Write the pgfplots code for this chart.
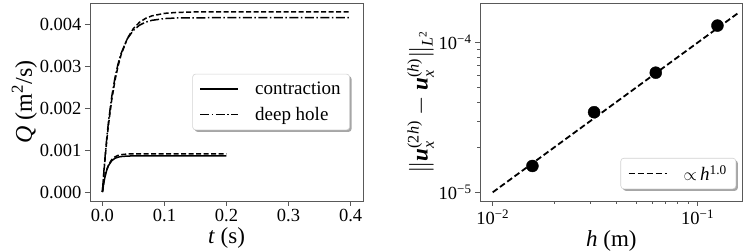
\documentclass[border=0pt]{standalone}
\usepackage{amsmath}
\usepackage{fontspec}
\setmainfont{Liberation Serif}
\usepackage{pgfplots}
\pgfplotsset{compat=1.18}
\usetikzlibrary{shadows}
\definecolor{framec}{gray}{0.35}
\makeatletter
\tikzset{noshadow/.code={\let\tikz@preactions\pgfutil@empty}}
\makeatother
\begin{document}
\begin{tikzpicture}
\pgfplotsset{
  every axis/.append style={
    scale only axis,
    axis line style={framec, line width=0.9pt},
    tick align=outside,
    tick style={framec, line width=0.8pt},
    major tick length=5pt,
    minor tick length=3pt,
    xtick pos=bottom, ytick pos=left,
    tick label style={font=\rmfamily\fontsize{18.5}{20}\selectfont},
    label style={font=\rmfamily\fontsize{23}{25}\selectfont},
    /pgf/number format/assume math mode=true,
    legend style={font=\rmfamily\fontsize{19}{21}\selectfont, draw=gray!35, line width=0.6pt,
      rounded corners=3pt, fill=white,
      drop shadow={shadow xshift=2pt, shadow yshift=-2pt, fill=gray!70, opacity=1},
      inner xsep=7pt, inner ysep=6pt, row sep=7pt,
      /tikz/every odd column/.append style={column sep=14pt}},
    legend cell align=left,
    legend image code/.code={\draw[noshadow,sharp corners,#1] (0pt,0pt) -- (38pt,0pt);},
  }
}
% Left panel
\begin{axis}[
  at={(90pt,51pt)}, anchor=south west,
  width=273pt, height=198pt,
  xmin=-0.02, xmax=0.42, ymin=-0.000214, ymax=0.0045,
  xtick={0,0.1,0.2,0.3,0.4},
  ytick={0,0.001,0.002,0.003,0.004},
  scaled ticks=false,
  xticklabel style={/pgf/number format/.cd, fixed, fixed zerofill, precision=1},
  yticklabel style={/pgf/number format/.cd, fixed, fixed zerofill, precision=3},
  xlabel={\textit{t} (s)},
  ylabel={\textit{Q} (m\textsuperscript{2}/s)},
  xlabel style={yshift=1pt},
  ylabel style={yshift=-4pt, font=\rmfamily\fontsize{24}{26}\selectfont},
  legend style={at={(0.952,0.5)}, anchor=east},
]
\addplot[black, line width=1.5pt] coordinates {
(0,0) (0.0025,0.000244) (0.005,0.000418) (0.0075,0.000544) (0.01,0.000633)
(0.015,0.000744) (0.02,0.000800) (0.025,0.000829) (0.03,0.000844) (0.04,0.000856)
(0.05,0.000859) (0.06,0.00086) (0.08,0.00086) (0.1,0.00086) (0.15,0.00086) (0.2,0.00086)};
\addlegendentry{contraction}
\addplot[black, line width=1.5pt, dash pattern=on 9pt off 2.5pt on 1.5pt off 2.5pt] coordinates {
(0,0) (0.0025,0.000512) (0.005,0.000960) (0.0075,0.001353) (0.01,0.001698)
(0.015,0.002265) (0.02,0.002702) (0.025,0.003037) (0.03,0.003294) (0.04,0.003645)
(0.05,0.003851) (0.06,0.003974) (0.07,0.004046) (0.08,0.004088) (0.1,0.004129)
(0.12,0.004143) (0.15,0.004148) (0.2,0.00415) (0.25,0.00415) (0.3,0.00415) (0.35,0.00415) (0.4,0.00415)};
\addlegendentry{deep hole}
\addplot[black, line width=1.5pt, dash pattern=on 5pt off 2.5pt, forget plot] coordinates {
(0,0) (0.0025,0.000244) (0.005,0.000423) (0.0075,0.000554) (0.01,0.000649)
(0.015,0.000770) (0.02,0.000835) (0.025,0.000870) (0.03,0.000889) (0.04,0.000904)
(0.05,0.000908) (0.06,0.00091) (0.08,0.00091) (0.1,0.00091) (0.15,0.00091) (0.2,0.00091)};
\addplot[black, line width=1.5pt, dash pattern=on 5pt off 2.5pt, forget plot] coordinates {
(0,0) (0.0025,0.000481) (0.005,0.000909) (0.0075,0.001288) (0.01,0.001626)
(0.015,0.002190) (0.02,0.002635) (0.025,0.002985) (0.03,0.003262) (0.04,0.003651)
(0.05,0.003893) (0.06,0.004044) (0.07,0.004137) (0.08,0.004195) (0.1,0.004253)
(0.12,0.004276) (0.15,0.004287) (0.2,0.00429) (0.25,0.00429) (0.3,0.00429) (0.35,0.00429) (0.4,0.00429)};
\end{axis}
% Right panel
\begin{axis}[
  at={(480pt,51pt)}, anchor=south west,
  width=262.7pt, height=198pt,
  xmode=log, ymode=log,
  xmin=0.00867, xmax=0.166, ymin=8.75e-6, ymax=1.84e-4,
  xtick={0.01,0.1}, xticklabels={10\textsuperscript{−2},10\textsuperscript{−1}},
  ytick={1e-5,1e-4}, yticklabels={10\textsuperscript{−5},10\textsuperscript{−4}},
  xlabel={\textit{h} (m)},
  ylabel={$\|\textbf{\textit{u}}_{\textit{x}}^{\text{(2\textit{h})}} - \textbf{\textit{u}}_{\textit{x}}^{\text{(\textit{h})}}\|_{\textit{L}^{\text{2}}}$},
  xlabel style={yshift=1pt},
  ylabel style={yshift=-2pt},
  legend style={at={(0.975,0.06)}, anchor=south east, row sep=3pt, inner ysep=5pt},
]
\addplot[black, line width=1.8pt, dash pattern=on 6pt off 3pt] coordinates {(0.01,1e-5) (0.16,1.6e-4)};
\addlegendentry{$\propto$\,\textit{h}\textsuperscript{1.0}}
\addplot[only marks, mark=*, mark size=6pt, black, forget plot] coordinates {
(0.015625,1.50e-5) (0.03125,3.43e-5) (0.0625,6.3e-5) (0.125,1.30e-4)};
\end{axis}
\pgfresetboundingbox
\path[use as bounding box] (0,0) rectangle (756pt,252pt);
\end{tikzpicture}
\end{document}
